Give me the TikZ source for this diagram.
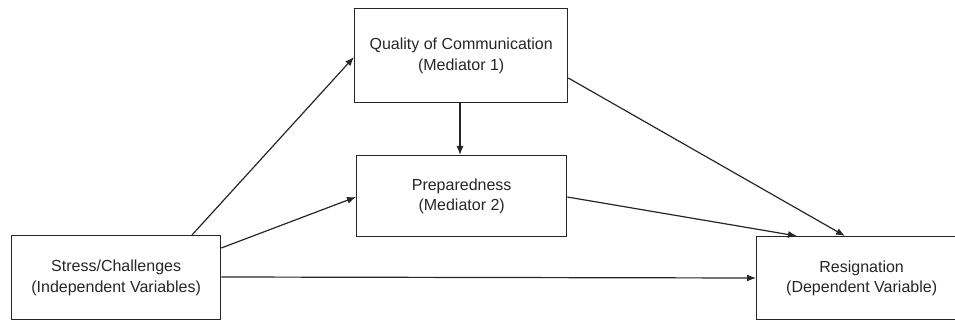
\documentclass[tikz,border=0pt]{standalone}
\usepackage{fontspec}
\setmainfont{Liberation Sans}
\usetikzlibrary{arrows.meta}
\definecolor{ink}{HTML}{262626}
\begin{document}
\begin{tikzpicture}[x=1pt,y=-1pt,
  box/.style={draw=ink,line width=1.3pt,rectangle,inner sep=0pt,anchor=north west,
    align=center,text=ink,font=\fontsize{16}{20.5}\selectfont},
  conn/.style={draw=ink,line width=1.2pt,-{Latex[length=9pt,width=7pt]}}]
\clip (0,0) rectangle (955,320);
\useasboundingbox (0,0) rectangle (955,320);
\node[box,minimum width=209pt,minimum height=84pt] (s) at (11,235) {Stress/Challenges\\(Independent Variables)};
\node[box,minimum width=213pt,minimum height=94pt] (q) at (354,8) {Quality of Communication\\(Mediator 1)};
\node[box,minimum width=210pt,minimum height=81pt] (p) at (356,155) {Preparedness\\(Mediator 2)};
\node[box,minimum width=210pt,minimum height=83pt] (r) at (756,236) {Resignation\\(Dependent Variable)};
\draw[conn] ([xshift=181pt]s.north west) -- ([yshift=-49pt]q.north west);
\draw[conn] ([yshift=-13pt]s.north east) -- ([yshift=-42pt]p.north west);
\draw[conn] ([yshift=-42pt]s.north east) -- ([yshift=-42pt]r.north west);
\draw[conn] ([xshift=106pt]q.south west) -- ([xshift=104pt]p.north west);
\draw[conn] ([yshift=-70pt]q.north east) -- ([xshift=89pt]r.north west);
\draw[conn] ([yshift=-42pt]p.north east) -- ([xshift=41pt]r.north west);
\end{tikzpicture}
\end{document}
